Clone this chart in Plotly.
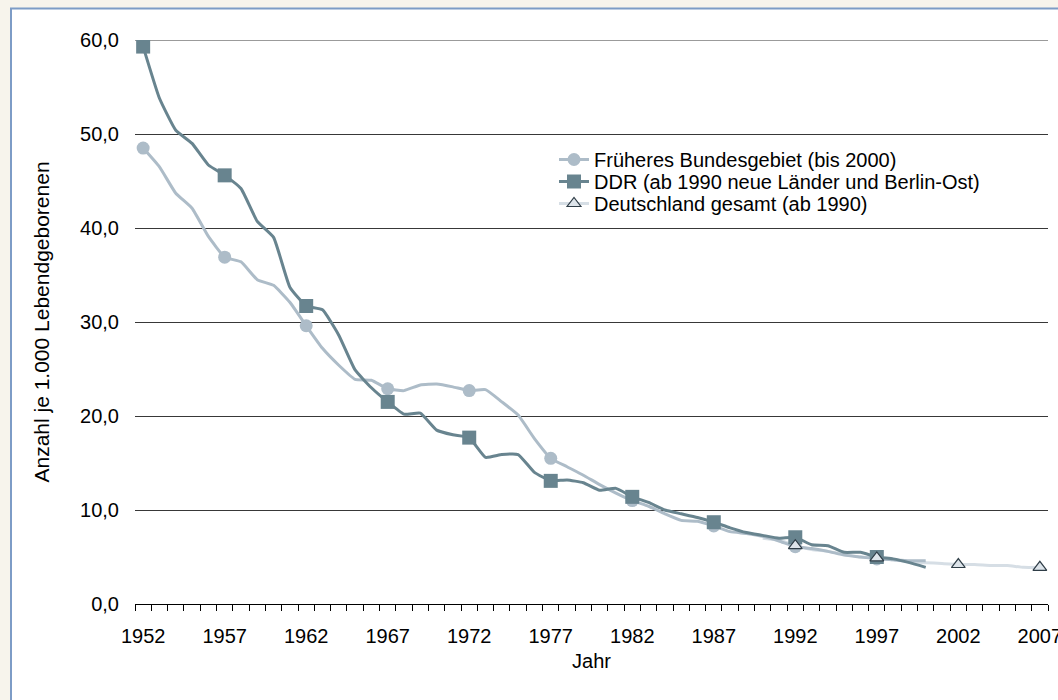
import plotly.graph_objects as go

years_a = list(range(1952, 2001))
frueheres = [48.5, 46.5, 43.7, 42.1, 39.1, 36.9, 36.4, 34.5, 33.9, 32.1,
             29.6, 27.2, 25.4, 23.9, 23.8, 22.9, 22.7, 23.3, 23.4, 23.1,
             22.7, 22.8, 21.5, 20.1, 17.6, 15.5, 14.6, 13.7, 12.7, 11.8,
             11.0, 10.4, 9.6, 8.9, 8.8, 8.3, 7.7, 7.5, 7.2, 6.7,
             6.1, 5.9, 5.6, 5.2, 5.0, 4.8, 4.7, 4.6, 4.6]
ddr = [59.3, 53.8, 50.4, 49.0, 46.7, 45.6, 44.2, 40.7, 39.0, 33.7,
       31.7, 31.3, 28.6, 24.9, 23.0, 21.5, 20.2, 20.3, 18.5, 18.0,
       17.7, 15.6, 15.9, 15.9, 14.0, 13.1, 13.2, 12.9, 12.1, 12.3,
       11.4, 10.8, 10.0, 9.6, 9.2, 8.7, 8.1, 7.6, 7.3, 7.0,
       7.1, 6.3, 6.2, 5.5, 5.5, 5.0, 4.8, 4.4, 3.9]
years_d = list(range(1990, 2008))
deutschland = [7.0, 6.8, 6.2, 5.8, 5.6, 5.3, 5.0, 4.9, 4.7, 4.5,
               4.4, 4.3, 4.2, 4.2, 4.1, 4.1, 3.9, 3.9]

names = ["Früheres Bundesgebiet (bis 2000)",
         "DDR (ab 1990 neue Länder und Berlin-Ost)",
         "Deutschland gesamt (ab 1990)"]
tick_years = list(range(1952, 2008, 5))
tick_labels = [str(y) for y in tick_years]
y_ticks = [0, 10, 20, 30, 40, 50, 60]

c_fb = "#adbcc8"
c_ddr = "#68848f"
c_de = "#d6dee5"
c_tri = "#dde4ea"
c_tri_line = "#2f3d47"
c_grid = "#383838"

FONT = "Liberation Sans, Arial, sans-serif"


def every5(xs, ys, start):
    px = [x for x in xs if (x - start) % 5 == 0]
    py = [y for x, y in zip(xs, ys) if (x - start) % 5 == 0]
    return px, py


fig = go.Figure()

# lines
fig.add_trace(go.Scatter(x=years_d, y=deutschland, mode="lines",
                         line=dict(color=c_de, width=3, shape="spline", smoothing=0.4),
                         showlegend=False))
fig.add_trace(go.Scatter(x=years_a, y=frueheres, mode="lines",
                         line=dict(color=c_fb, width=3, shape="spline", smoothing=0.4),
                         showlegend=False))
fig.add_trace(go.Scatter(x=years_a, y=ddr, mode="lines",
                         line=dict(color=c_ddr, width=3, shape="spline", smoothing=0.4),
                         showlegend=False))

# markers every five years
mx, my = every5(years_a, frueheres, 1952)
fig.add_trace(go.Scatter(x=mx, y=my, mode="markers",
                         marker=dict(symbol="circle", size=13, color=c_fb),
                         showlegend=False))
mx, my = every5(years_a, ddr, 1952)
fig.add_trace(go.Scatter(x=mx, y=my, mode="markers",
                         marker=dict(symbol="square", size=14, color=c_ddr),
                         showlegend=False))
mx, my = every5(years_d, deutschland, 1992)
fig.add_trace(go.Scatter(x=mx, y=my, mode="markers",
                         marker=dict(symbol="triangle-up", size=12, color=c_tri,
                                     line=dict(color=c_tri_line, width=1.2)),
                         showlegend=False))

# legend entries (one legend per row for exact spacing)
fig.add_trace(go.Scatter(x=[None], y=[None], mode="lines+markers", name=names[0],
                         legend="legend",
                         line=dict(color=c_fb, width=3),
                         marker=dict(symbol="circle", size=13, color=c_fb)))
fig.add_trace(go.Scatter(x=[None], y=[None], mode="lines+markers", name=names[1],
                         legend="legend2",
                         line=dict(color=c_ddr, width=3),
                         marker=dict(symbol="square", size=14, color=c_ddr)))
fig.add_trace(go.Scatter(x=[None], y=[None], mode="lines+markers", name=names[2],
                         legend="legend3",
                         line=dict(color=c_de, width=3),
                         marker=dict(symbol="triangle-up", size=12, color=c_tri,
                                     line=dict(color=c_tri_line, width=1.2))))

L, R, T, B = 135, 10, 40, 96
W, H = 1058, 700
pw, ph = W - L - R, H - T - B


def px2x(p):
    return (p - L) / pw


def px2y(p):
    return (H - B - p) / ph


shapes = [
    dict(type="rect", xref="paper", yref="paper",
         x0=px2x(11), x1=px2x(W + 20), y0=px2y(H + 20), y1=px2y(8.5),
         fillcolor="white", line=dict(color="#7d9cc6", width=2), layer="below"),
    # top gridline (plotly hides the gridline at the range edge)
    dict(type="line", xref="paper", x0=0, x1=1, yref="y", y0=60, y1=60,
         line=dict(color=c_grid, width=1), layer="below"),
]

leg_common = dict(xanchor="left", yanchor="top", bgcolor="rgba(0,0,0,0)",
                  font=dict(size=20, family=FONT, color="#000000"))

fig.update_layout(
    width=W, height=H,
    margin=dict(l=L, r=R, t=T, b=B, autoexpand=False),
    paper_bgcolor="#f7f4ec",
    plot_bgcolor="white",
    separators=",.",
    font=dict(family=FONT, size=20, color="#000000"),
    shapes=shapes,
    showlegend=True,
    legend=dict(x=px2x(554), y=px2y(140), **leg_common),
    legend2=dict(x=px2x(554), y=px2y(162), **leg_common),
    legend3=dict(x=px2x(554), y=px2y(184), **leg_common),
    xaxis=dict(range=[1951.5, 2007.5], tickmode="array", tickvals=tick_years,
               ticktext=tick_labels, ticks="outside", ticklen=0,
               showline=True, linecolor="#000000", linewidth=1,
               showgrid=False, zeroline=False, ticklabeloverflow="allow",
               automargin=False,
               minor=dict(tickmode="array",
                          tickvals=[y - 0.5 for y in range(1952, 2009)],
                          ticks="outside", ticklen=6, tickcolor="#000000",
                          tickwidth=1, showgrid=False),
               tickfont=dict(size=20, family=FONT),
               ticklabelstandoff=14,
               title=dict(text="Jahr", font=dict(size=20, family=FONT), standoff=7)),
    yaxis=dict(range=[0, 60], tickmode="array", tickvals=y_ticks,
               tickformat=".1f", ticks="", showline=False, zeroline=False,
               showgrid=True, gridcolor=c_grid, gridwidth=1, automargin=False,
               tickfont=dict(size=20, family=FONT), ticklabelstandoff=15,
               title=dict(text="Anzahl je 1.000 Lebendgeborenen",
                          font=dict(size=21, family=FONT), standoff=24)),
)

fig.write_html("out.html",
               config={"displayModeBar": False},
               post_script="document.body.style.margin='0';document.body.style.overflow='hidden';")
